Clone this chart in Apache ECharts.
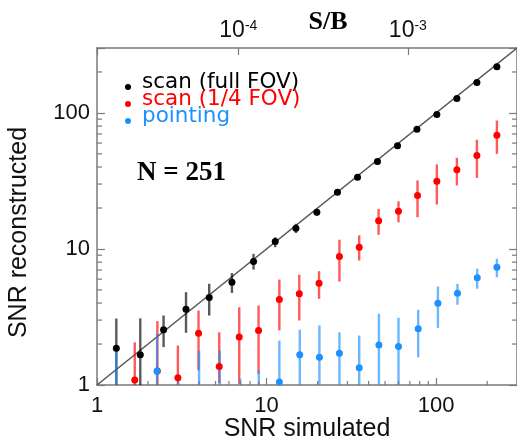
<!DOCTYPE html>
<html>
<head>
<meta charset="utf-8">
<script src="https://cdn.jsdelivr.net/npm/echarts@6/dist/echarts.min.js"></script>
<style>
  html, body { margin: 0; padding: 0; background: #fff; }
  #chart { width: 517px; height: 445px; }
</style>
</head>
<body>
<div id="chart"></div>
<script>
// Scan over the full field of view: simulated SNR, reconstructed SNR and its range
const fullX  = [1.30, 1.80, 2.47, 3.35, 4.59, 6.25, 8.38, 11.25, 14.9, 19.8, 26.2, 34.4, 45.1, 59.2, 77.1, 101, 132.6, 174, 228.3];
const fullY  = [1.86, 1.67, 2.55, 3.61, 4.40, 5.70, 8.08, 11.34, 14.2, 18.6, 26.1, 33.7, 44.0, 57.3, 75.9, 97.3, 127.6, 167.3, 218];
const fullLo = [0.5, 0.5, 1.90, 2.42, 3.24, 4.75, 7.06, 10.3, 13.1, 17.6, 25.0, 32.5, 42.5, 55.5, 73.5, 94.5, 124, 163, 213];
const fullHi = [3.08, 3.09, 3.24, 4.81, 5.54, 6.65, 9.21, 12.2, 15.3, 19.7, 27.2, 35.0, 45.5, 59.0, 78.2, 100, 131, 171, 223];

// Scan over a quarter of the field of view
const quarterX  = [1.67, 2.27, 3.00, 3.97, 5.26, 6.90, 8.97, 11.9, 15.6, 20.4, 26.9, 35.2, 45.8, 60.0, 77.7, 101, 132.6, 174, 228.3];
const quarterY  = [1.09, 1.27, 1.13, 2.40, 1.37, 2.25, 2.52, 4.25, 4.68, 5.6, 8.80, 10.3, 16.1, 18.9, 24.7, 31.5, 38.2, 48.6, 68.5];
const quarterLo = [0.5, 0.5, 0.5, 1.28, 1.03, 1.02, 1.21, 2.52, 2.98, 4.30, 5.76, 8.22, 12.7, 15.7, 17.1, 21.2, 29.3, 33.3, 50];
const quarterHi = [2.06, 2.95, 1.95, 3.53, 2.44, 3.73, 3.84, 5.96, 6.46, 6.86, 11.7, 12.6, 19.7, 22.4, 31.9, 41.8, 46.8, 63.4, 87.9];

// Pointed observations
const pointX  = [1.30, 2.26, 3.01, 4.0, 5.3, 7.0, 9.0, 11.9, 15.7, 20.5, 26.9, 35.2, 46.0, 60.0, 78.4, 102.5, 133.7, 174.8, 228.3];
const pointY  = [0.75, 1.26, 0.8, 0.85, 0.8, 0.7, 0.8, 1.05, 1.67, 1.60, 1.71, 1.34, 1.97, 1.92, 2.59, 3.99, 4.73, 6.14, 7.34];
const pointLo = [0.4, 0.5, 0.5, 0.5, 0.5, 0.4, 0.5, 0.5, 0.5, 0.5, 0.5, 0.5, 0.5, 0.5, 1.60, 2.63, 3.89, 5.10, 6.20];
const pointHi = [1.79, 2.38, 1.14, 1.79, 1.79, 1.11, 1.28, 2.12, 2.55, 2.74, 2.44, 2.31, 3.34, 3.12, 3.57, 5.30, 5.54, 7.15, 8.47];

// Axis ranges and tick values
const snrMin = 1;
const snrMax = 300;
const sbPerSnr = 1.467e-5;          // S/B corresponding to an SNR of 1
const minorTicks = [2, 3, 4, 5, 6, 7, 8, 9, 20, 30, 40, 50, 60, 70, 80, 90, 200];
const identityLine = [[1, 1], [300, 300]];

const seriesNames = ['scan (full FOV)', 'scan (1/4 FOV)', 'pointing'];
const seriesColors = ['#000000', '#ff0000', '#1e90ff'];

const SANS = 'Liberation Sans';
const SERIF = 'Liberation Serif';
const AXIS_COLOR = '#7a7a7a';
const MAJOR_LEN = 7;
const MINOR_LEN = 4;

// legend marker: a dot sitting low in its box, so it lines up with the text's x-height
const LEGEND_DOT = 'path://M0,0L0,0M-3,13A3,3,0,1,0,3,13A3,3,0,1,0,-3,13Z';

const zip = (a, b) => a.map((v, i) => [v, b[i]]);
const zip3 = (a, b, c) => a.map((v, i) => [v, b[i], c[i]]);

function decadeLabel(v) {
  const e = Math.log10(v);
  const r = Math.round(e);
  return Math.abs(e - r) < 1e-6 ? String(Math.pow(10, r)) : '';
}
function powerLabel(v) {
  const e = Math.log10(v);
  const r = Math.round(e);
  return Math.abs(e - r) < 1e-6 ? '{b|10}{s|' + r + '}' : '';
}

function errorBars(name, color, xs, lo, hi) {
  return {
    type: 'custom',
    name: name + ' range',
    xAxisIndex: 0, yAxisIndex: 0,
    clip: true, silent: true, z: 3,
    data: zip3(xs, lo, hi),
    encode: { x: 0, y: [1, 2] },
    renderItem(params, api) {
      const a = api.coord([api.value(0), api.value(1)]);
      const b = api.coord([api.value(0), api.value(2)]);
      return {
        type: 'line',
        shape: { x1: a[0], y1: a[1], x2: b[0], y2: b[1] },
        style: { stroke: color, lineWidth: 2.4, opacity: 0.65 }
      };
    }
  };
}

function dots(name, color, xs, ys, z) {
  return {
    type: 'scatter', name,
    xAxisIndex: 0, yAxisIndex: 0,
    symbol: 'circle', symbolSize: 7,
    itemStyle: { color, opacity: 1 },
    clip: true, silent: true, z,
    data: zip(xs, ys)
  };
}

const chart = echarts.init(document.getElementById('chart'), null, { renderer: 'canvas' });

const tickLabelStyle = { fontFamily: SANS, fontSize: 22, color: '#111' };

chart.setOption({
  animation: false,
  backgroundColor: '#fff',
  grid: { left: 97, top: 48, width: 420, height: 337, containLabel: false, outerBoundsMode: 'none' },
  legend: {
    orient: 'vertical', left: 120, top: 66,
    itemGap: -5, itemWidth: 18, itemHeight: 16,
    icon: LEGEND_DOT, selectedMode: false,
    textStyle: { fontFamily: 'DejaVu Sans', fontSize: 21.5 },
    data: seriesNames.map((n, i) => ({ name: n, textStyle: { color: seriesColors[i] } }))
  },
  graphic: [{
    type: 'text', x: 181.5, y: 173,
    style: {
      text: 'N = 251', fontFamily: SERIF, fontWeight: 'bold', fontSize: 27,
      fill: '#000', align: 'center', verticalAlign: 'middle'
    }
  }],
  xAxis: [{
    type: 'log', logBase: 10, min: snrMin, max: snrMax, position: 'bottom',
    name: 'SNR simulated', nameLocation: 'middle', nameGap: 32, nameMoveOverlap: false,
    nameTextStyle: { fontFamily: SANS, fontSize: 25, color: '#111' },
    axisLine: { show: true, onZero: false, lineStyle: { color: AXIS_COLOR, width: 1.5 } },
    axisTick: { show: true, inside: true, length: MAJOR_LEN, lineStyle: { color: AXIS_COLOR, width: 1.2 } },
    axisLabel: Object.assign({ margin: 10, formatter: decadeLabel }, tickLabelStyle),
    splitLine: { show: false }
  }, {
    type: 'log', logBase: 10, min: snrMin * sbPerSnr, max: snrMax * sbPerSnr, position: 'top',
    name: 'S/B', nameLocation: 'middle', nameGap: 13, nameMoveOverlap: false,
    nameTextStyle: { fontFamily: SERIF, fontWeight: 'bold', fontSize: 26, color: '#000', padding: [0, 0, 0, 42] },
    axisLine: { show: true, onZero: false, lineStyle: { color: AXIS_COLOR, width: 1.5 } },
    axisTick: { show: true, inside: true, length: MAJOR_LEN, lineStyle: { color: AXIS_COLOR, width: 1.2 } },
    axisLabel: {
      margin: 6, formatter: powerLabel,
      rich: {
        b: { fontFamily: SANS, fontSize: 23, color: '#111' },
        s: { fontFamily: SANS, fontSize: 14, color: '#111', verticalAlign: 'top' }
      }
    },
    splitLine: { show: false }
  }],
  yAxis: [{
    type: 'log', logBase: 10, min: snrMin, max: snrMax, position: 'left',
    name: 'SNR reconstructed', nameLocation: 'middle', nameGap: 65, nameMoveOverlap: false,
    nameTextStyle: { fontFamily: SANS, fontSize: 25, color: '#111', padding: [0, 32, 0, 0] },
    axisLine: { show: true, onZero: false, lineStyle: { color: AXIS_COLOR, width: 1.5 } },
    axisTick: { show: true, inside: true, length: MAJOR_LEN + 1, lineStyle: { color: AXIS_COLOR, width: 1.2 } },
    axisLabel: Object.assign({ margin: 7, formatter: decadeLabel }, tickLabelStyle),
    splitLine: { show: false }
  }, {
    type: 'log', logBase: 10, min: snrMin, max: snrMax, position: 'right',
    axisLine: { show: true, onZero: false, lineStyle: { color: AXIS_COLOR, width: 1.5 } },
    axisTick: { show: true, inside: true, length: MAJOR_LEN + 1, lineStyle: { color: AXIS_COLOR, width: 1.2 } },
    axisLabel: { show: false },
    splitLine: { show: false }
  }],
  series: [
    {
      type: 'line', name: 'identity', xAxisIndex: 0, yAxisIndex: 0,
      data: identityLine, showSymbol: false, silent: true, clip: true, z: 2,
      lineStyle: { color: '#555', width: 1.5 }
    },
    // minor ticks along the bottom edge
    {
      type: 'custom', name: 'x minor ticks', xAxisIndex: 0, yAxisIndex: 0, silent: true, z: 4,
      data: minorTicks.map(v => [v, snrMin]),
      encode: { x: 0, y: 1 },
      renderItem(params, api) {
        const p = api.coord([api.value(0), snrMin]);
        const cs = params.coordSys;
        const yb = cs.y + cs.height;
        return {
          type: 'line',
          shape: { x1: p[0], y1: yb, x2: p[0], y2: yb - MINOR_LEN },
          style: { stroke: AXIS_COLOR, lineWidth: 1.2 }
        };
      }
    },
    // minor ticks along the left and right edges
    {
      type: 'custom', name: 'y minor ticks', xAxisIndex: 0, yAxisIndex: 0, silent: true, z: 4,
      data: minorTicks.map(v => [snrMin, v]),
      encode: { x: 0, y: 1 },
      renderItem(params, api) {
        const p = api.coord([snrMin, api.value(1)]);
        const cs = params.coordSys;
        const xr = cs.x + cs.width;
        return {
          type: 'group',
          children: [{
            type: 'line',
            shape: { x1: cs.x, y1: p[1], x2: cs.x + MINOR_LEN + 1, y2: p[1] },
            style: { stroke: AXIS_COLOR, lineWidth: 1.2 }
          }, {
            type: 'line',
            shape: { x1: xr, y1: p[1], x2: xr - MINOR_LEN - 1, y2: p[1] },
            style: { stroke: AXIS_COLOR, lineWidth: 1.2 }
          }]
        };
      }
    },
    errorBars(seriesNames[0], seriesColors[0], fullX, fullLo, fullHi),
    errorBars(seriesNames[1], seriesColors[1], quarterX, quarterLo, quarterHi),
    errorBars(seriesNames[2], seriesColors[2], pointX, pointLo, pointHi),
    dots(seriesNames[1], seriesColors[1], quarterX, quarterY, 5),
    dots(seriesNames[2], seriesColors[2], pointX, pointY, 6),
    dots(seriesNames[0], seriesColors[0], fullX, fullY, 7)
  ]
});
</script>
</body>
</html>
